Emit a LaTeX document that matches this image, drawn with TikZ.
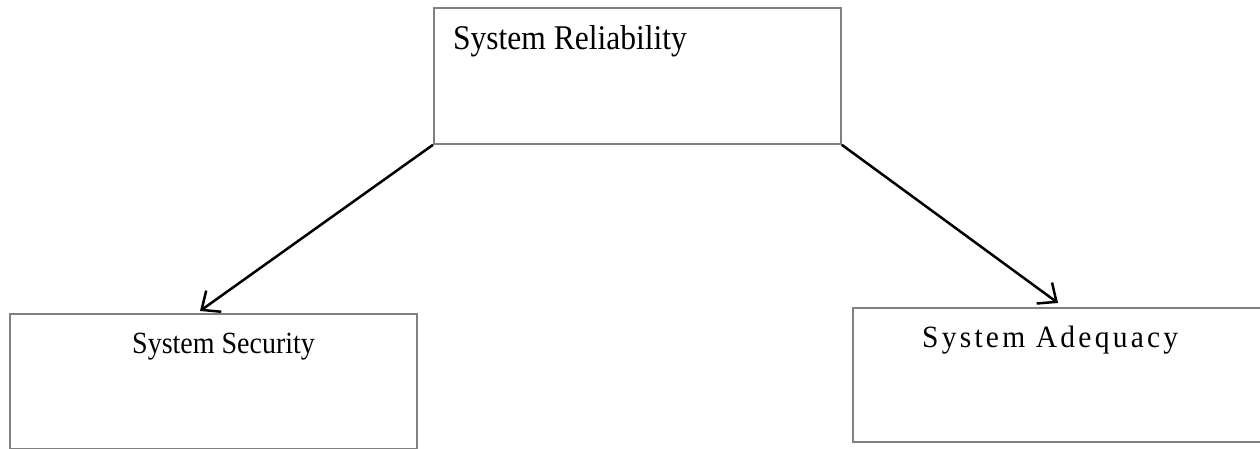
\documentclass[tikz,border=0pt]{standalone}
\usepackage{fontspec}
\setmainfont{Liberation Serif}
\usetikzlibrary{arrows.meta}
\begin{document}
\begin{tikzpicture}[x=1pt,y=-1pt,
  boxnode/.style={draw=black!50, line width=1.8pt, rectangle, inner sep=0pt, anchor=north west},
  lbl/.style={anchor=base west, inner sep=0pt},
  conn/.style={line width=2.5pt, -{Straight Barb[length=15pt,width=26pt]}}]
\useasboundingbox (0,0) rectangle (1260,449);
\fill[white] (0,0) rectangle (1260,449);
\node[boxnode, minimum width=407pt, minimum height=136pt] (top) at (433,7) {};
\node[boxnode, minimum width=407pt, minimum height=135pt] (left) at (9,313) {};
\node[boxnode, minimum width=412pt, minimum height=134pt] (right) at (852,307) {};
\node[lbl] (ttop) at (453,50) {\scalebox{1}[1.1]{\fontsize{31.5}{36}\selectfont System Reliability}};
\node[lbl] (tleft) at (132,353) {\scalebox{1}[1.1]{\fontsize{28}{33}\selectfont System Security}};
\node[lbl] (tright) at (922,347) {\scalebox{1}[1.05]{\fontsize{29.5}{34}\selectfont\addfontfeature{LetterSpace=11}System Adequacy}};
\coordinate (tip1) at (200,311);
\coordinate (tip2) at (1058,303);
\draw[conn] (top.south west) -- (tip1);
\draw[conn] (top.south east) -- (tip2);
\end{tikzpicture}
\end{document}
